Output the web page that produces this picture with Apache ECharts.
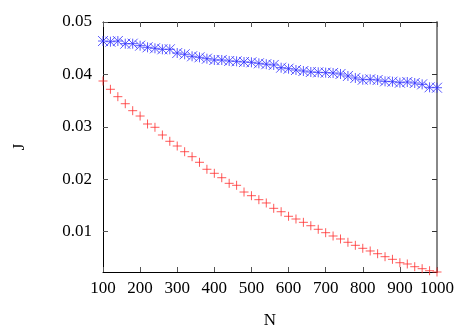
<!DOCTYPE html>
<html>
<head>
<meta charset="utf-8">
<script src="https://cdn.jsdelivr.net/npm/echarts@6/dist/echarts.min.js"></script>
<style>
  html, body { margin: 0; padding: 0; background: #fff; }
  #chart { width: 467px; height: 327px; }
</style>
</head>
<body>
<div id="chart"></div>
<script>
  // N 取值
  var nValues = [100, 120, 140, 160, 180, 200, 220, 240, 260, 280, 300, 320, 340, 360, 380, 400,
    420, 440, 460, 480, 500, 520, 540, 560, 580, 600, 620, 640, 660, 680, 700, 720, 740, 760,
    780, 800, 820, 840, 860, 880, 900, 920, 940, 960, 980, 1000];

  // 上面那条 (蓝色星号)
  var jBlue = [0.04637, 0.04624, 0.04637, 0.04586, 0.04586, 0.04548, 0.04517, 0.04498, 0.04479,
    0.04479, 0.04408, 0.04384, 0.04346, 0.04326, 0.04300, 0.04275, 0.04275, 0.04256, 0.04250,
    0.04237, 0.04231, 0.04212, 0.04195, 0.04180, 0.04128, 0.04109, 0.04084, 0.04065, 0.04046,
    0.04040, 0.04033, 0.04027, 0.04008, 0.03970, 0.03932, 0.03899, 0.03906, 0.03893, 0.03868,
    0.03861, 0.03842, 0.03855, 0.03836, 0.03811, 0.03754, 0.03746];

  // 下面那条 (红色加号)
  var jRed = [0.03874, 0.03716, 0.03575, 0.03441, 0.03308, 0.03206, 0.03054, 0.02991, 0.02844,
    0.02724, 0.02634, 0.02525, 0.02430, 0.02323, 0.02190, 0.02113, 0.02029, 0.01922, 0.01884,
    0.01756, 0.01686, 0.01610, 0.01547, 0.01445, 0.01380, 0.01293, 0.01241, 0.01178, 0.01113,
    0.01045, 0.00980, 0.00917, 0.00860, 0.00797, 0.00739, 0.00682, 0.00631, 0.00579, 0.00522,
    0.00472, 0.00407, 0.00383, 0.00331, 0.00293, 0.00254, 0.00230];

  var yTicks = [0.01, 0.02, 0.03, 0.04, 0.05];

  var font = 'Liberation Serif';

  var chart = echarts.init(document.getElementById('chart'), null, {renderer: 'canvas'});

  function pairs(ys) {
    return nValues.map(function (n, i) { return [n, ys[i]]; });
  }

  chart.setOption({
    animation: false,
    backgroundColor: '#fff',
    grid: {left: 103, right: 30, top: 22, bottom: 55, outerBoundsMode: 'none', containLabel: false},
    xAxis: [{
      type: 'value',
      min: 100,
      max: 1000,
      interval: 100,
      name: 'N',
      nameLocation: 'middle',
      nameGap: 40,
      nameTextStyle: {fontFamily: font, fontSize: 17, color: '#000'},
      axisLine: {lineStyle: {color: '#000', width: 1}},
      axisTick: {inside: true, length: 5, lineStyle: {color: '#555'}},
      axisLabel: {fontFamily: font, fontSize: 17, color: '#000', margin: 8,
        formatter: function (v) { return String(v); }},
      splitLine: {show: false}
    }, {
      type: 'value',
      position: 'top',
      min: 100,
      max: 1000,
      interval: 100,
      axisLine: {lineStyle: {color: '#000', width: 1}},
      axisTick: {inside: true, length: 5, lineStyle: {color: '#555'}},
      axisLabel: {show: false},
      splitLine: {show: false}
    }],
    yAxis: [{
      type: 'value',
      min: 0.0023,
      max: 0.05,
      name: 'J',
      nameLocation: 'middle',
      nameGap: 75,
      nameRotate: 90,
      nameTextStyle: {fontFamily: font, fontSize: 17, color: '#000'},
      axisLine: {show: true, lineStyle: {color: '#000', width: 1}},
      axisTick: {inside: true, length: 5, customValues: yTicks, lineStyle: {color: '#555'}},
      axisLabel: {fontFamily: font, fontSize: 17, color: '#000', margin: 11, customValues: yTicks,
        formatter: function (v) { return v.toFixed(2); }},
      splitLine: {show: false}
    }, {
      type: 'value',
      position: 'right',
      min: 0.0023,
      max: 0.05,
      axisLine: {show: true, lineStyle: {color: '#888', width: 2}},
      axisTick: {inside: true, length: 5, customValues: yTicks, lineStyle: {color: '#333'}},
      axisLabel: {show: false},
      splitLine: {show: false}
    }],
    series: [{
      type: 'scatter',
      name: 'blue',
      data: pairs(jBlue),
      symbol: 'path://M0,5L10,5M5,0L5,10M0,0L10,10M10,0L0,10',
      symbolSize: 10,
      itemStyle: {color: 'rgba(0,0,0,0)', borderColor: '#3030ff', borderWidth: 1}
    }, {
      type: 'scatter',
      name: 'red',
      data: pairs(jRed),
      symbol: 'path://M0,5L10,5M5,0L5,10',
      symbolSize: 9,
      itemStyle: {color: 'rgba(0,0,0,0)', borderColor: '#ff3030', borderWidth: 1}
    }]
  });
</script>
</body>
</html>
